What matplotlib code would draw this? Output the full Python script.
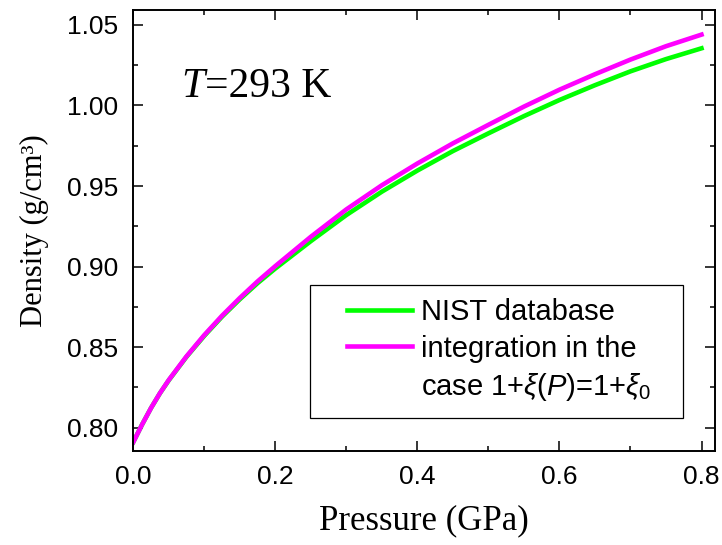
import matplotlib
matplotlib.use('Agg')
import matplotlib.pyplot as plt
from matplotlib.patches import Rectangle
from matplotlib.lines import Line2D
from matplotlib.ticker import MultipleLocator, FormatStrFormatter

# density vs pressure at 293 K
pressure = [0.0, 0.0125, 0.025, 0.0375, 0.05, 0.075, 0.10, 0.125, 0.15, 0.175, 0.20, 0.25, 0.30, 0.35,
            0.40, 0.45, 0.50, 0.55, 0.60, 0.65, 0.70, 0.75, 0.80]
rho_nist = [0.7910, 0.8020, 0.8122, 0.8213, 0.8294, 0.8440, 0.8570, 0.8689, 0.8797, 0.8897, 0.8988, 0.9158,
            0.9320, 0.9465, 0.9596, 0.9717, 0.9827, 0.9934, 1.0034, 1.0126, 1.0212, 1.0288, 1.0355]
rho_integ = [0.7910, 0.8020, 0.8122, 0.8214, 0.8296, 0.8443, 0.8575, 0.8695, 0.8805, 0.8908, 0.9003, 0.9185,
             0.9355, 0.9505, 0.9640, 0.9765, 0.9880, 0.9993, 1.0098, 1.0194, 1.0285, 1.0368, 1.0440]

plt.rcParams['font.family'] = 'Liberation Sans'
plt.rcParams['mathtext.fontset'] = 'custom'
plt.rcParams['mathtext.rm'] = 'Liberation Sans'
plt.rcParams['mathtext.it'] = 'Liberation Sans:italic'

fig = plt.figure(figsize=(7.22, 5.45), dpi=100)
ax = fig.add_axes([0.1846, 0.1725, 0.8057, 0.8092])

l1, = ax.plot(pressure, rho_nist, color='#00ff00', lw=3.3)
l2, = ax.plot(pressure, rho_integ, color='#ff00ff', lw=3.3)

ax.set_xlim(0, 0.819)
ax.set_ylim(0.7855, 1.0593)
ax.xaxis.set_major_locator(MultipleLocator(0.2))
ax.xaxis.set_minor_locator(MultipleLocator(0.1))
ax.yaxis.set_major_locator(MultipleLocator(0.05))
ax.yaxis.set_minor_locator(MultipleLocator(0.025))
ax.xaxis.set_major_formatter(FormatStrFormatter('%.1f'))
ax.yaxis.set_major_formatter(FormatStrFormatter('%.2f'))

ax.tick_params(which='both', direction='in', top=True, right=True, width=1.1, labelsize=19)
ax.tick_params(which='major', length=7.2)
ax.tick_params(which='minor', length=3.6)
ax.tick_params(axis='x', pad=10)
ax.tick_params(axis='y', pad=11)
for sp in ax.spines.values():
    sp.set_linewidth(1.4)

ax.set_xlabel('Pressure (GPa)', family='Liberation Serif', fontsize=25, labelpad=11)
ax.set_ylabel('Density (g/cm³)', family='Liberation Serif', fontsize=22, labelpad=13)

t = ax.text(0.0832, 0.8034, 'T', transform=ax.transAxes, family='Liberation Serif',
            style='italic', fontsize=30, va='baseline', ha='left')
ax.annotate('=293 K', xy=(1, 0), xycoords=t, va='bottom', ha='left',
            family='Liberation Serif', fontsize=30)

# legend box drawn separately so the side padding can be wider than the top/bottom
ax.add_patch(Rectangle((0.3038, 0.0755), 0.6418, 0.3009, transform=ax.transAxes,
                       facecolor='white', edgecolor='black', lw=0.9, zorder=4))
blank = Line2D([], [], color='none')
ax.legend([l1, l2, blank],
          ['NIST database', 'integration in the', 'case 1+$\\xi$($P$)=1+$\\xi_0$'],
          loc='lower right', bbox_to_anchor=(0.8900, 0.108), frameon=False,
          fontsize=21, handlelength=2.23, handletextpad=0.31, labelspacing=0.30,
          borderpad=0, borderaxespad=0)

fig.savefig('out.png', dpi=100)
